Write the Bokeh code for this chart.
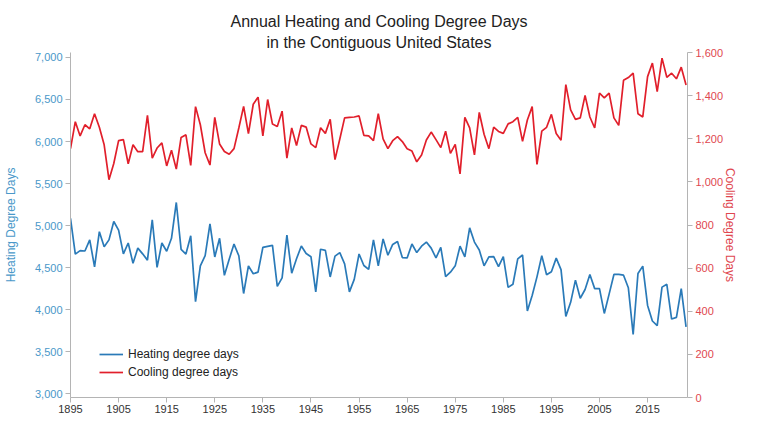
from bokeh.plotting import figure
from bokeh.models import Range1d, LinearAxis, FixedTicker, NumeralTickFormatter, Title
from bokeh.embed import file_html
from bokeh.resources import INLINE

years = list(range(1895, 2024))

heating_dd = [
    5087, 4661, 4702, 4698, 4830,                                # 1895-1899
    4510, 4928, 4747, 4830, 5049, 4947, 4664, 4793, 4551, 4732,  # 1900s
    4664, 4589, 5068, 4502, 4793, 4695, 4849, 5275, 4717, 4661,  # 1910s
    4879, 4095, 4521, 4642, 5019, 4627, 4849, 4408, 4600, 4780,  # 1920s
    4641, 4192, 4521, 4427, 4446, 4740, 4753, 4764, 4276, 4378,  # 1930s
    4888, 4434, 4605, 4758, 4668, 4630, 4212, 4719, 4705, 4389,  # 1940s
    4637, 4678, 4545, 4212, 4360, 4662, 4525, 4479, 4830, 4521,  # 1950s
    4842, 4647, 4776, 4811, 4619, 4615, 4781, 4679, 4755, 4804,  # 1960s
    4732, 4615, 4740, 4392, 4446, 4521, 4755, 4627, 4973, 4804,  # 1970s
    4709, 4521, 4627, 4630, 4512, 4630, 4265, 4302, 4604, 4650,  # 1980s
    3984, 4168, 4390, 4643, 4415, 4450, 4613, 4476, 3920, 4087,  # 1990s
    4351, 4136, 4240, 4419, 4250, 4250, 3955, 4185, 4419, 4419,  # 2000s
    4410, 4260, 3705, 4430, 4518, 4050, 3865, 3810, 4268, 4302,  # 2010s
    3888, 3908, 4250, 3796,                                      # 2020-2023
]

cooling_dd = [
    1154, 1279, 1213, 1265, 1246,                                # 1895-1899
    1316, 1253, 1172, 1010, 1085, 1191, 1196, 1084, 1172, 1140,  # 1900s
    1140, 1309, 1110, 1157, 1181, 1074, 1147, 1059, 1206, 1218,  # 1910s
    1076, 1349, 1265, 1135, 1078, 1299, 1176, 1141, 1128, 1154,  # 1920s
    1250, 1350, 1224, 1360, 1393, 1213, 1382, 1268, 1257, 1328,  # 1930s
    1110, 1250, 1169, 1262, 1254, 1176, 1159, 1251, 1225, 1290,  # 1940s
    1103, 1199, 1297, 1299, 1301, 1306, 1216, 1213, 1191, 1316,  # 1950s
    1199, 1154, 1191, 1210, 1187, 1154, 1143, 1093, 1125, 1194,  # 1960s
    1231, 1196, 1159, 1235, 1132, 1174, 1037, 1299, 1250, 1125,  # 1970s
    1322, 1221, 1154, 1254, 1234, 1225, 1269, 1279, 1299, 1188,  # 1980s
    1287, 1349, 1081, 1235, 1253, 1313, 1224, 1193, 1451, 1334,  # 1990s
    1290, 1297, 1401, 1301, 1250, 1412, 1390, 1412, 1297, 1262,  # 2000s
    1471, 1484, 1504, 1316, 1301, 1488, 1551, 1419, 1574, 1485,  # 2010s
    1504, 1478, 1532, 1449,                                      # 2020-2023
]

x_ticks = [1895, 1905, 1915, 1925, 1935, 1945, 1955, 1965, 1975, 1985, 1995, 2005, 2015]
hdd_ticks = [3000, 3500, 4000, 4500, 5000, 5500, 6000, 6500, 7000]
cdd_ticks = [0, 200, 400, 600, 800, 1000, 1200, 1400, 1600]

title_lines = ["Annual Heating and Cooling Degree Days", "in the Contiguous United States"]

BLUE = "#2a7ab8"
RED = "#e11f2b"
BLUE_TXT = "#4a98c9"
RED_TXT = "#e0474f"
AXIS_GRAY = "#b4b4b4"
FONT = "Liberation Sans"

p = figure(width=743, height=416, output_backend="svg", toolbar_location=None,
           x_range=Range1d(1895, 2023.3), y_range=Range1d(2955, 7059),
           min_border_left=63, min_border_right=56, min_border_top=52, min_border_bottom=19)
p.extra_y_ranges = {"cdd": Range1d(0, 1600)}
p.outline_line_color = None
p.xgrid.visible = False
p.ygrid.visible = False
p.background_fill_color = "white"
p.border_fill_color = "white"

# two-line centred title: the default title is the outer (first) line,
# the added Title sits between it and the plot (second line)
p.title.text = title_lines[0]
p.title.align = "center"
p.title.standoff = 2
p.title.text_font = FONT
p.title.text_font_size = "16px"
p.title.text_font_style = "normal"
p.title.text_color = "#222222"
p.add_layout(Title(text=title_lines[1], align="center", standoff=3, text_font=FONT,
                   text_font_size="16px", text_font_style="normal", text_color="#222222"),
             "above")

p.line(years, heating_dd, line_color=BLUE, line_width=1.7, legend_label="Heating degree days")
p.line(years, cooling_dd, line_color=RED, line_width=1.7, legend_label="Cooling degree days",
       y_range_name="cdd")


def style_axis(ax, color, standoff, label=None, label_standoff=0):
    ax.axis_line_color = AXIS_GRAY
    ax.major_tick_line_color = AXIS_GRAY
    ax.minor_tick_line_color = None
    ax.major_tick_in = 0
    ax.major_tick_out = 5
    ax.major_label_standoff = standoff
    ax.major_label_text_font = FONT
    ax.major_label_text_font_size = "11px"
    ax.major_label_text_color = color
    if label:
        ax.axis_label = label
        ax.axis_label_text_font = FONT
        ax.axis_label_text_font_size = "12px"
        ax.axis_label_text_font_style = "normal"
        ax.axis_label_text_color = color
        ax.axis_label_standoff = label_standoff


xa = p.xaxis[0]
xa.ticker = FixedTicker(ticks=x_ticks)
style_axis(xa, "#333333", 2)

ya = p.yaxis[0]
ya.ticker = FixedTicker(ticks=hdd_ticks)
ya.formatter = NumeralTickFormatter(format="0,0")
style_axis(ya, BLUE_TXT, 3, "Heating Degree Days", 14)

ra = LinearAxis(y_range_name="cdd", ticker=FixedTicker(ticks=cdd_ticks),
                formatter=NumeralTickFormatter(format="0,0"))
style_axis(ra, RED_TXT, 3, "Cooling Degree Days", -3)
p.add_layout(ra, "right")

lg = p.legend[0]
lg.location = (29, 16)
lg.padding = 0
lg.margin = 0
lg.spacing = 0
lg.glyph_width = 24
lg.glyph_height = 18
lg.label_height = 18
lg.label_standoff = 5
lg.border_line_color = None
lg.background_fill_alpha = 0
lg.label_text_font = FONT
lg.label_text_font_size = "12px"
lg.label_text_color = "#222222"

open("out.html", "w").write(file_html(p, INLINE))
